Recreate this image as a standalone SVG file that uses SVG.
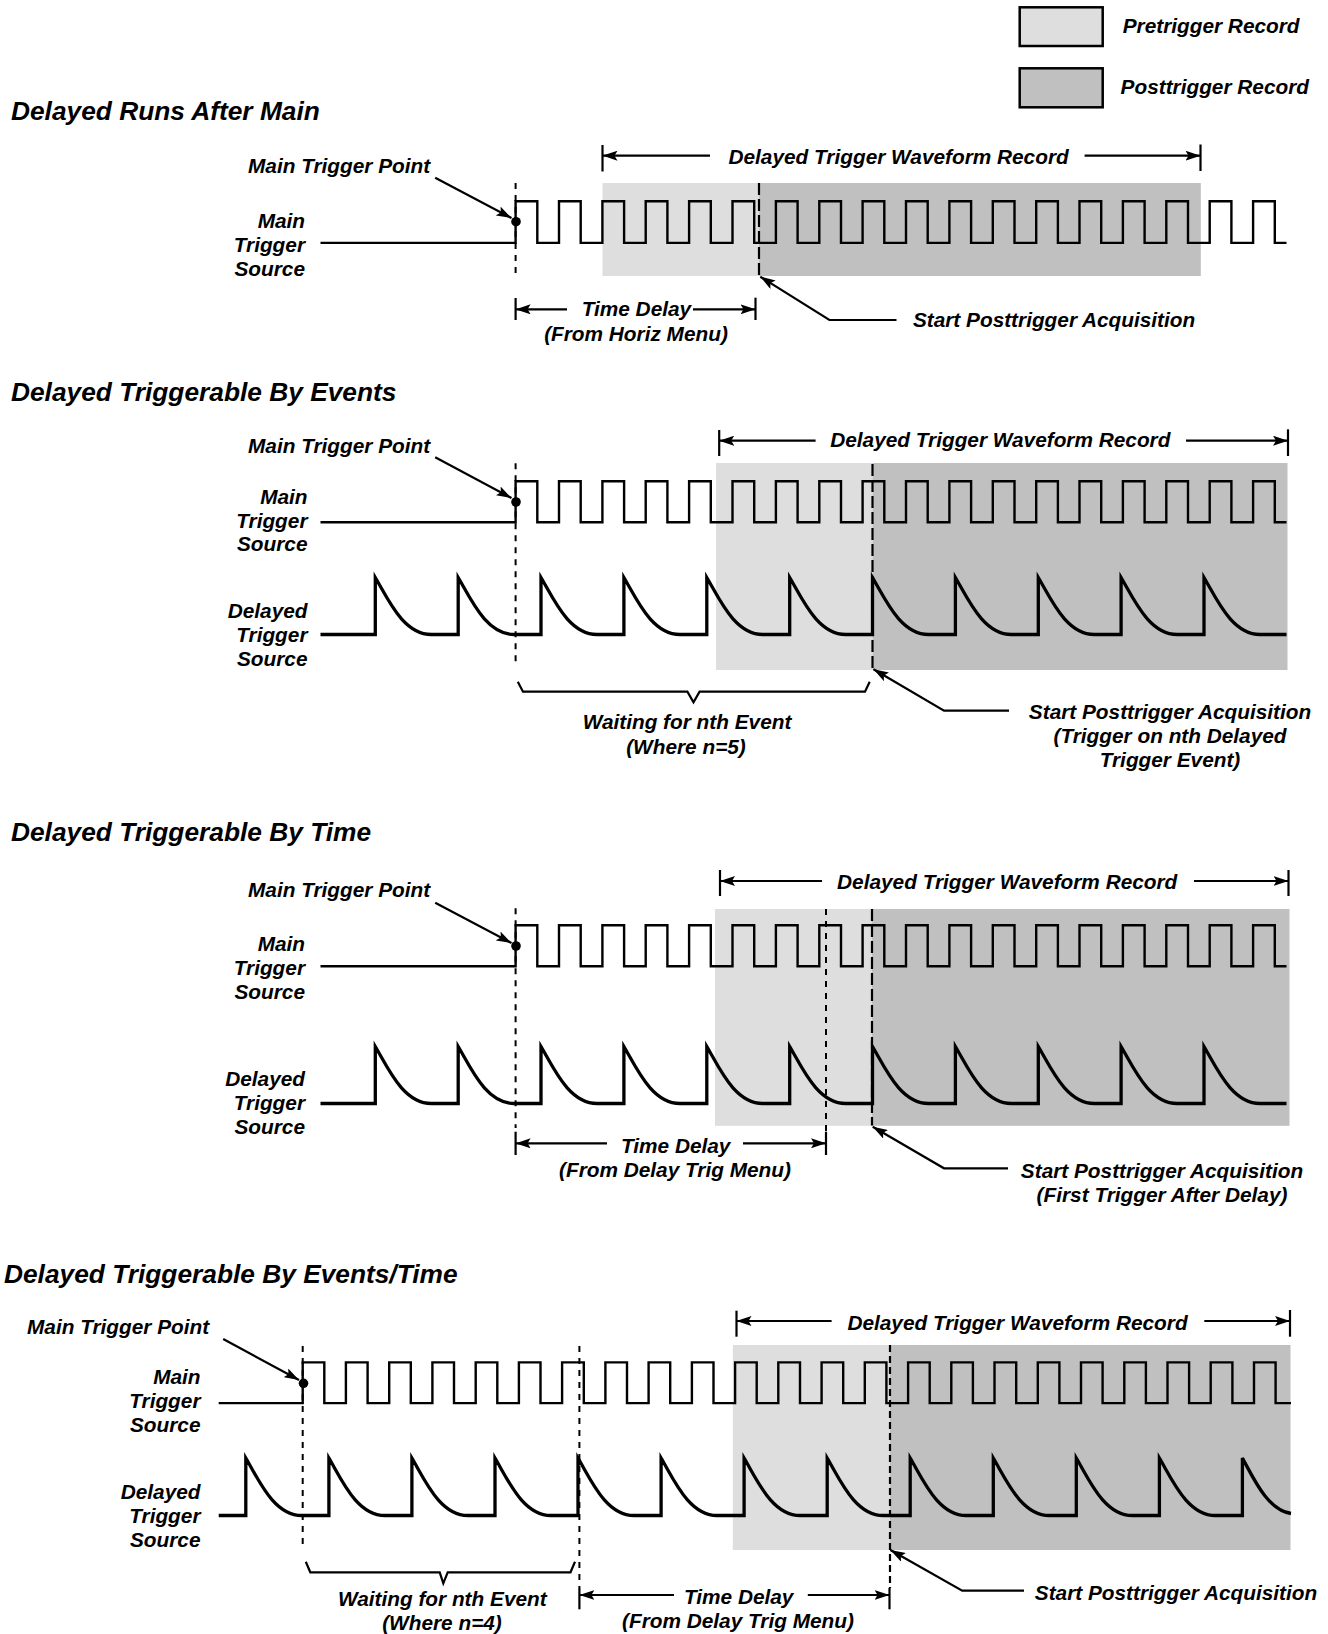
<svg xmlns="http://www.w3.org/2000/svg" xmlns:xlink="http://www.w3.org/1999/xlink" width="1328" height="1634" viewBox="0 0 1328 1634">
<style>
.t{font-family:"Liberation Sans",Arial,sans-serif;font-weight:bold;font-style:italic;font-size:20.8px;fill:#000}
.h{font-size:26.3px}
.e{text-anchor:end}
.m{text-anchor:middle}
.sq{fill:none;stroke:#000;stroke-width:2.4;stroke-linejoin:miter}
.ex{fill:none;stroke:#000;stroke-width:3.3}
.ln{fill:none;stroke:#000;stroke-width:2.2}
.ds{fill:none;stroke:#000;stroke-width:2;stroke-dasharray:6 6}
.ld{fill:none;stroke:#000;stroke-width:2.2;stroke-dasharray:12 4}
.md{fill:none;stroke:#000;stroke-width:2.2;stroke-dasharray:7 4}
.pre{fill:#dedede}
.post{fill:#c0c0c0}
.box{stroke:#000;stroke-width:2.5}
</style>
<defs>
<marker id="ah" viewBox="0 0 15 10" refX="15" refY="5" markerWidth="15" markerHeight="10" markerUnits="userSpaceOnUse" orient="auto"><path d="M0,0 L15,5 L0,10 L3,5 z" fill="#000"/></marker>
<path id="sqA" d="M320.5,0 H515.6 V-41 H537.3 V0 H559.0 V-41 H580.7 V0 H602.4 V-41 H624.1 V0 H645.7 V-41 H667.4 V0 H689.1 V-41 H710.8 V0 H732.5 V-41 H754.2 V0 H775.9 V-41 H797.6 V0 H819.3 V-41 H841.0 V0 H862.6 V-41 H884.3 V0 H906.0 V-41 H927.7 V0 H949.4 V-41 H971.1 V0 H992.8 V-41 H1014.5 V0 H1036.2 V-41 H1057.9 V0 H1079.5 V-41 H1101.2 V0 H1122.9 V-41 H1144.6 V0 H1166.3 V-41 H1188.0 V0 H1209.7 V-41 H1231.4 V0 H1253.1 V-41 H1274.8 V0 H1286.5"/>
<path id="exA" d="M320.5,0 H375.3 V-57 c13,22 28,57 56,57 H458.2 V-57 c13,22 28,57 56,57 H541.0 V-57 c13,22 28,57 56,57 H623.9 V-57 c13,22 28,57 56,57 H706.8 V-57 c13,22 28,57 56,57 H789.7 V-57 c13,22 28,57 56,57 H872.5 V-57 c13,22 28,57 56,57 H955.4 V-57 c13,22 28,57 56,57 H1038.3 V-57 c13,22 28,57 56,57 H1121.1 V-57 c13,22 28,57 56,57 H1204.0 V-57 c13,22 28,57 56,57 H1286.5"/>
</defs>

<g id="legend">
<g id="legend-pre"><rect class="pre box" x="1019.7" y="7.3" width="83" height="38.7"/><text class="t" x="1122.7" y="33.4">Pretrigger Record</text></g>
<g id="legend-post"><rect class="post box" x="1019.7" y="68.3" width="83" height="39"/><text class="t" x="1120.6" y="93.8">Posttrigger Record</text></g>
</g>

<!-- Section 1 -->
<g id="sec1">
<text id="sec1-title" class="t h" x="11" y="120.4">Delayed Runs After Main</text>
<g id="sec1-records"><rect class="pre" x="602.5" y="183" width="156.5" height="93"/><rect class="post" x="759" y="183" width="441.8" height="93"/></g>
<g id="sec1-main"><use xlink:href="#sqA" href="#sqA" class="sq" transform="translate(0,242.9) scale(1,1.017)"/>
<text class="t e" x="305" y="228.3">Main</text><text class="t e" x="305" y="252.3">Trigger</text><text class="t e" x="305" y="276.2">Source</text></g>
<circle cx="516" cy="221.7" r="4.8"/>
<text class="t" x="248" y="173">Main Trigger Point</text>
<text class="t m" x="898.6" y="163.7">Delayed Trigger Waveform Record</text>
<text class="t m" x="636.4" y="315.9">Time Delay</text>
<text class="t m" x="636" y="340.9">(From Horiz Menu)</text>
<text class="t" x="912.9" y="327.3">Start Posttrigger Acquisition</text>
</g>

<!-- Section 2 -->
<g id="sec2">
<text id="sec2-title" class="t h" x="11" y="400.9">Delayed Triggerable By Events</text>
<g id="sec2-records"><rect class="pre" x="716" y="463" width="156.5" height="207"/><rect class="post" x="872.5" y="463" width="415" height="207"/></g>
<g id="sec2-main"><use xlink:href="#sqA" href="#sqA" class="sq" transform="translate(0,522.3)"/>
<text class="t e" x="307.5" y="503.5">Main</text><text class="t e" x="307.5" y="527.5">Trigger</text><text class="t e" x="307.5" y="551.4">Source</text></g>
<g id="sec2-delayed"><use xlink:href="#exA" href="#exA" class="ex" transform="translate(0,634.5)"/>
<text class="t e" x="307.5" y="618.1">Delayed</text><text class="t e" x="307.5" y="642.1">Trigger</text><text class="t e" x="307.5" y="666.1">Source</text></g>
<circle cx="516" cy="502" r="4.8"/>
<text class="t" x="248" y="453.4">Main Trigger Point</text>
<text class="t m" x="1000.3" y="447.3">Delayed Trigger Waveform Record</text>
<text class="t m" x="687" y="728.6">Waiting for nth Event</text>
<text class="t m" x="686" y="753.7">(Where n=5)</text>
<text class="t m" x="1170" y="719.3">Start Posttrigger Acquisition</text>
<text class="t m" x="1170" y="743.3">(Trigger on nth Delayed</text>
<text class="t m" x="1170" y="767.2">Trigger Event)</text>
</g>

<!-- Section 3 -->
<g id="sec3">
<text id="sec3-title" class="t h" x="11" y="840.7">Delayed Triggerable By Time</text>
<g id="sec3-records"><rect class="pre" x="715" y="909" width="157" height="216.8"/><rect class="post" x="872" y="909" width="417.5" height="216.8"/></g>
<g id="sec3-main"><use xlink:href="#sqA" href="#sqA" class="sq" transform="translate(0,966.2)"/>
<text class="t e" x="305" y="950.7">Main</text><text class="t e" x="305" y="974.6">Trigger</text><text class="t e" x="305" y="998.6">Source</text></g>
<g id="sec3-delayed"><use xlink:href="#exA" href="#exA" class="ex" transform="translate(0,1103.5)"/>
<text class="t e" x="305" y="1086.2">Delayed</text><text class="t e" x="305" y="1110.2">Trigger</text><text class="t e" x="305" y="1134.1">Source</text></g>
<circle cx="516" cy="946" r="4.8"/>
<text class="t" x="248" y="896.5">Main Trigger Point</text>
<text class="t m" x="1007.2" y="889.2">Delayed Trigger Waveform Record</text>
<text class="t m" x="675.7" y="1152.9">Time Delay</text>
<text class="t m" x="675" y="1176.9">(From Delay Trig Menu)</text>
<text class="t m" x="1162" y="1177.9">Start Posttrigger Acquisition</text>
<text class="t m" x="1162" y="1201.9">(First Trigger After Delay)</text>
</g>

<!-- Section 4 -->
<g id="sec4">
<text id="sec4-title" class="t h" x="4" y="1282.7">Delayed Triggerable By Events/Time</text>
<g id="sec4-records"><rect class="pre" x="732.8" y="1345" width="157.2" height="205"/><rect class="post" x="890" y="1345" width="400.5" height="205"/></g>
<g id="sec4-main"><path class="sq" d="M218.7,1403.1 H302.7 V1362.4 H324.3 V1403.1 H345.9 V1362.4 H367.6 V1403.1 H389.2 V1362.4 H410.8 V1403.1 H432.4 V1362.4 H454.0 V1403.1 H475.7 V1362.4 H497.3 V1403.1 H518.9 V1362.4 H540.5 V1403.1 H562.1 V1362.4 H583.8 V1403.1 H605.4 V1362.4 H627.0 V1403.1 H648.6 V1362.4 H670.2 V1403.1 H691.9 V1362.4 H713.5 V1403.1 H735.1 V1362.4 H756.7 V1403.1 H778.3 V1362.4 H800.0 V1403.1 H821.6 V1362.4 H843.2 V1403.1 H864.8 V1362.4 H886.4 V1403.1 H908.1 V1362.4 H929.7 V1403.1 H951.3 V1362.4 H972.9 V1403.1 H994.5 V1362.4 H1016.2 V1403.1 H1037.8 V1362.4 H1059.4 V1403.1 H1081.0 V1362.4 H1102.6 V1403.1 H1124.3 V1362.4 H1145.9 V1403.1 H1167.5 V1362.4 H1189.1 V1403.1 H1210.7 V1362.4 H1232.4 V1403.1 H1254.0 V1362.4 H1275.6 V1403.1 H1291"/>
<text class="t e" x="200.5" y="1384.3">Main</text><text class="t e" x="200.5" y="1408.3">Trigger</text><text class="t e" x="200.5" y="1432.3">Source</text></g>
<g id="sec4-delayed"><path class="ex" d="M218.7,1515.5 H245.8 V1458 c13,22 28,57.5 56,57.5 H328.9 V1458 c13,22 28,57.5 56,57.5 H411.9 V1458 c13,22 28,57.5 56,57.5 H495.0 V1458 c13,22 28,57.5 56,57.5 H578.0 V1458 c13,22 28,57.5 56,57.5 H661.1 V1458 c13,22 28,57.5 56,57.5 H744.1 V1458 c13,22 28,57.5 56,57.5 H827.2 V1458 c13,22 28,57.5 56,57.5 H910.2 V1458 c13,22 28,57.5 56,57.5 H993.3 V1458 c13,22 28,57.5 56,57.5 H1076.3 V1458 c13,22 28,57.5 56,57.5 H1159.4 V1458 c13,22 28,57.5 56,57.5 H1242.4 V1458 c11,20 25,52 48.6,55.5"/>
<text class="t e" x="200.5" y="1499">Delayed</text><text class="t e" x="200.5" y="1523">Trigger</text><text class="t e" x="200.5" y="1547">Source</text></g>
<circle cx="303.5" cy="1383.3" r="4.8"/>
<text class="t" x="27" y="1334.3">Main Trigger Point</text>
<text class="t m" x="1017.5" y="1330.1">Delayed Trigger Waveform Record</text>
<text class="t m" x="442.3" y="1606.3">Waiting for nth Event</text>
<text class="t m" x="442" y="1630.3">(Where n=4)</text>
<text class="t m" x="738.7" y="1604.3">Time Delay</text>
<text class="t m" x="738" y="1628.3">(From Delay Trig Menu)</text>
<text class="t" x="1034.8" y="1600.1">Start Posttrigger Acquisition</text>
</g>

<g id="connectors">
<!-- sec1 -->
<line class="ds" x1="515.6" y1="183" x2="515.6" y2="276"/>
<line class="ld" x1="759" y1="183" x2="759" y2="276"/>
<line class="ln" x1="435.2" y1="177.7" x2="511.5" y2="218" marker-end="url(#ah)"/>
<line class="ln" x1="602.5" y1="145" x2="602.5" y2="171.5"/>
<line class="ln" x1="710" y1="155.7" x2="602.5" y2="155.7" marker-end="url(#ah)"/>
<line class="ln" x1="1084.6" y1="155.7" x2="1200.5" y2="155.7" marker-end="url(#ah)"/>
<line class="ln" x1="1200.5" y1="144.5" x2="1200.5" y2="171"/>
<line class="ln" x1="515.6" y1="298" x2="515.6" y2="320"/>
<line class="ln" x1="567" y1="309.3" x2="515.6" y2="309.3" marker-end="url(#ah)"/>
<line class="ln" x1="693" y1="309.3" x2="755.5" y2="309.3" marker-end="url(#ah)"/>
<line class="ln" x1="755.5" y1="297.7" x2="755.5" y2="320"/>
<path class="ln" d="M896.5,320 H829.4 L760.3,276.7" marker-end="url(#ah)"/>
<!-- sec2 -->
<line class="ds" x1="515.6" y1="463.3" x2="515.6" y2="666.7"/>
<line class="ld" x1="872.5" y1="464" x2="872.5" y2="668.3"/>
<line class="ln" x1="435.2" y1="457.3" x2="511.5" y2="498" marker-end="url(#ah)"/>
<line class="ln" x1="719.2" y1="430" x2="719.2" y2="456"/>
<line class="ln" x1="815.6" y1="440.7" x2="719.2" y2="440.7" marker-end="url(#ah)"/>
<line class="ln" x1="1186" y1="440.7" x2="1288" y2="440.7" marker-end="url(#ah)"/>
<line class="ln" x1="1288" y1="429.3" x2="1288" y2="456"/>
<path class="ln" d="M517.8,681.7 L523,691.7 H687.4 L693.5,702.3 L699.6,691.7 H865 L869.7,681.7"/>
<path class="ln" d="M1009,710.7 H944 L873.5,669.3" marker-end="url(#ah)"/>
<!-- sec3 -->
<line class="ds" x1="515.6" y1="908.3" x2="515.6" y2="1128"/>
<line class="ds" x1="826" y1="909" x2="826" y2="1131.7"/>
<line class="ld" x1="872" y1="909" x2="872" y2="1125.5"/>
<line class="ln" x1="435.2" y1="902.7" x2="511.5" y2="943" marker-end="url(#ah)"/>
<line class="ln" x1="720" y1="870" x2="720" y2="896"/>
<line class="ln" x1="822" y1="881" x2="720" y2="881" marker-end="url(#ah)"/>
<line class="ln" x1="1194" y1="881" x2="1288.5" y2="881" marker-end="url(#ah)"/>
<line class="ln" x1="1288.5" y1="870" x2="1288.5" y2="896"/>
<line class="ln" x1="515.6" y1="1131.7" x2="515.6" y2="1155"/>
<line class="ln" x1="607" y1="1143.3" x2="515.6" y2="1143.3" marker-end="url(#ah)"/>
<line class="ln" x1="743" y1="1143.3" x2="826" y2="1143.3" marker-end="url(#ah)"/>
<line class="ln" x1="826" y1="1131.7" x2="826" y2="1155"/>
<path class="ln" d="M1008,1168.3 H944 L872.7,1126.7" marker-end="url(#ah)"/>
<!-- sec4 -->
<line class="ds" x1="302.7" y1="1346" x2="302.7" y2="1545"/>
<line class="ds" x1="579.4" y1="1346" x2="579.4" y2="1588"/>
<line class="md" x1="890" y1="1345" x2="890" y2="1588"/>
<line class="ln" x1="223.2" y1="1339" x2="299" y2="1380" marker-end="url(#ah)"/>
<line class="ln" x1="736.5" y1="1310.7" x2="736.5" y2="1336.7"/>
<line class="ln" x1="831.6" y1="1321" x2="736.5" y2="1321" marker-end="url(#ah)"/>
<line class="ln" x1="1204.3" y1="1321" x2="1290" y2="1321" marker-end="url(#ah)"/>
<line class="ln" x1="1290" y1="1310" x2="1290" y2="1336.7"/>
<path class="ln" d="M305.8,1561.7 L310.3,1572.3 H439.7 L443.3,1583.3 L447.7,1572.3 H570.5 L575,1561.7"/>
<line class="ln" x1="579.4" y1="1588" x2="579.4" y2="1609.3"/>
<line class="ln" x1="674" y1="1595" x2="579.4" y2="1595" marker-end="url(#ah)"/>
<line class="ln" x1="807.8" y1="1595" x2="889.5" y2="1595" marker-end="url(#ah)"/>
<line class="ln" x1="889.5" y1="1588" x2="889.5" y2="1609.3"/>
<path class="ln" d="M1024,1590.7 H962.2 L890.4,1550" marker-end="url(#ah)"/>
</g>
</svg>
